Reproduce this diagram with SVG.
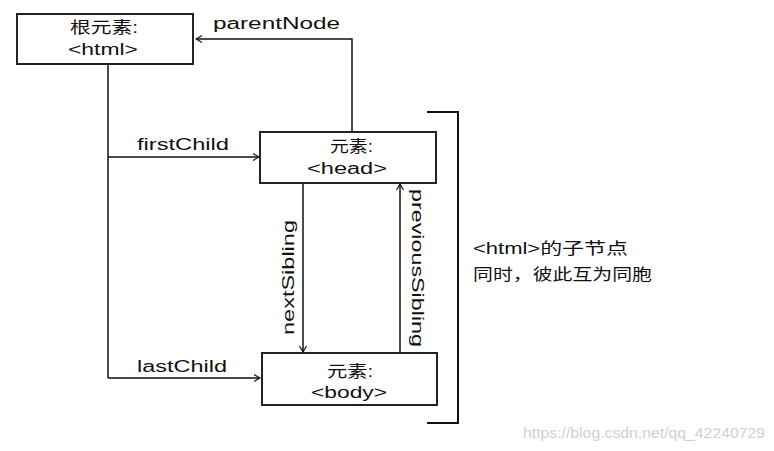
<svg xmlns="http://www.w3.org/2000/svg" width="774" height="451" viewBox="0 0 774 451">
<style>
.box{fill:#fff;stroke:#222;stroke-width:2}
.t{font-family:"Liberation Sans","Noto Sans CJK SC",sans-serif;font-size:16px;fill:#111}
.c{text-anchor:middle}
.ln{fill:none;stroke:#111;stroke-width:1.5}
.wm{font-family:"Liberation Sans",sans-serif;font-size:15px;fill:#d0d0d0}
</style>
<defs>
<marker id="arr" viewBox="0 0 8 8" refX="7" refY="4" markerWidth="8" markerHeight="8" markerUnits="userSpaceOnUse" orient="auto">
<path d="M1,0.5 L7,4 L1,7.5" fill="none" stroke="#111" stroke-width="1.2"/>
</marker>
</defs>
<rect width="774" height="451" fill="#fff"/>
<g id="connectors">
<path class="ln" d="M352,132 V39 H196" stroke-width="2" marker-end="url(#arr)"/>
<path class="ln" d="M108,64 V378"/>
<path class="ln" d="M108,157 H259" marker-end="url(#arr)"/>
<path class="ln" d="M108,378 H260" marker-end="url(#arr)"/>
<path class="ln" d="M303,183 V352" marker-end="url(#arr)"/>
<path class="ln" d="M400,352 V184" marker-end="url(#arr)"/>
<text class="t" x="213" y="29" textLength="127" lengthAdjust="spacingAndGlyphs">parentNode</text>
<text class="t" x="137" y="150" textLength="92" lengthAdjust="spacingAndGlyphs">firstChild</text>
<text class="t" x="137" y="372" textLength="90" lengthAdjust="spacingAndGlyphs">lastChild</text>
<text class="t" transform="translate(294,335) rotate(-90)" textLength="115" lengthAdjust="spacingAndGlyphs">nextSibling</text>
<text class="t" transform="translate(412,189) rotate(90)" textLength="158" lengthAdjust="spacingAndGlyphs">previousSibling</text>
</g>
<g id="root">
<rect class="box" x="17" y="14" width="176" height="50"/>
<text class="t" x="70" y="33" textLength="68" lengthAdjust="spacingAndGlyphs">根元素:</text>
<text class="t" x="68" y="55" textLength="70" lengthAdjust="spacingAndGlyphs">&lt;html&gt;</text>
</g>
<g id="head">
<rect class="box" x="260" y="132" width="176" height="51"/>
<text class="t" x="330" y="152" textLength="43" lengthAdjust="spacingAndGlyphs">元素:</text>
<text class="t" x="307" y="174" textLength="80" lengthAdjust="spacingAndGlyphs">&lt;head&gt;</text>
</g>
<g id="body">
<rect class="box" x="262" y="353" width="175" height="52"/>
<text class="t" x="327" y="377" textLength="46" lengthAdjust="spacingAndGlyphs">元素:</text>
<text class="t" x="311" y="398" textLength="76" lengthAdjust="spacingAndGlyphs">&lt;body&gt;</text>
</g>
<g id="bracket">
<path d="M427,112 H458 V423 H427" fill="none" stroke="#111" stroke-width="2"/>
<text class="t" x="473" y="254" textLength="155" lengthAdjust="spacingAndGlyphs">&lt;html&gt;的子节点</text>
<text class="t" x="473" y="280" textLength="179" lengthAdjust="spacingAndGlyphs">同时，彼此互为同胞</text>
</g>
<text class="wm" x="523" y="438" textLength="242" lengthAdjust="spacingAndGlyphs">https://blog.csdn.net/qq_42240729</text>
</svg>
